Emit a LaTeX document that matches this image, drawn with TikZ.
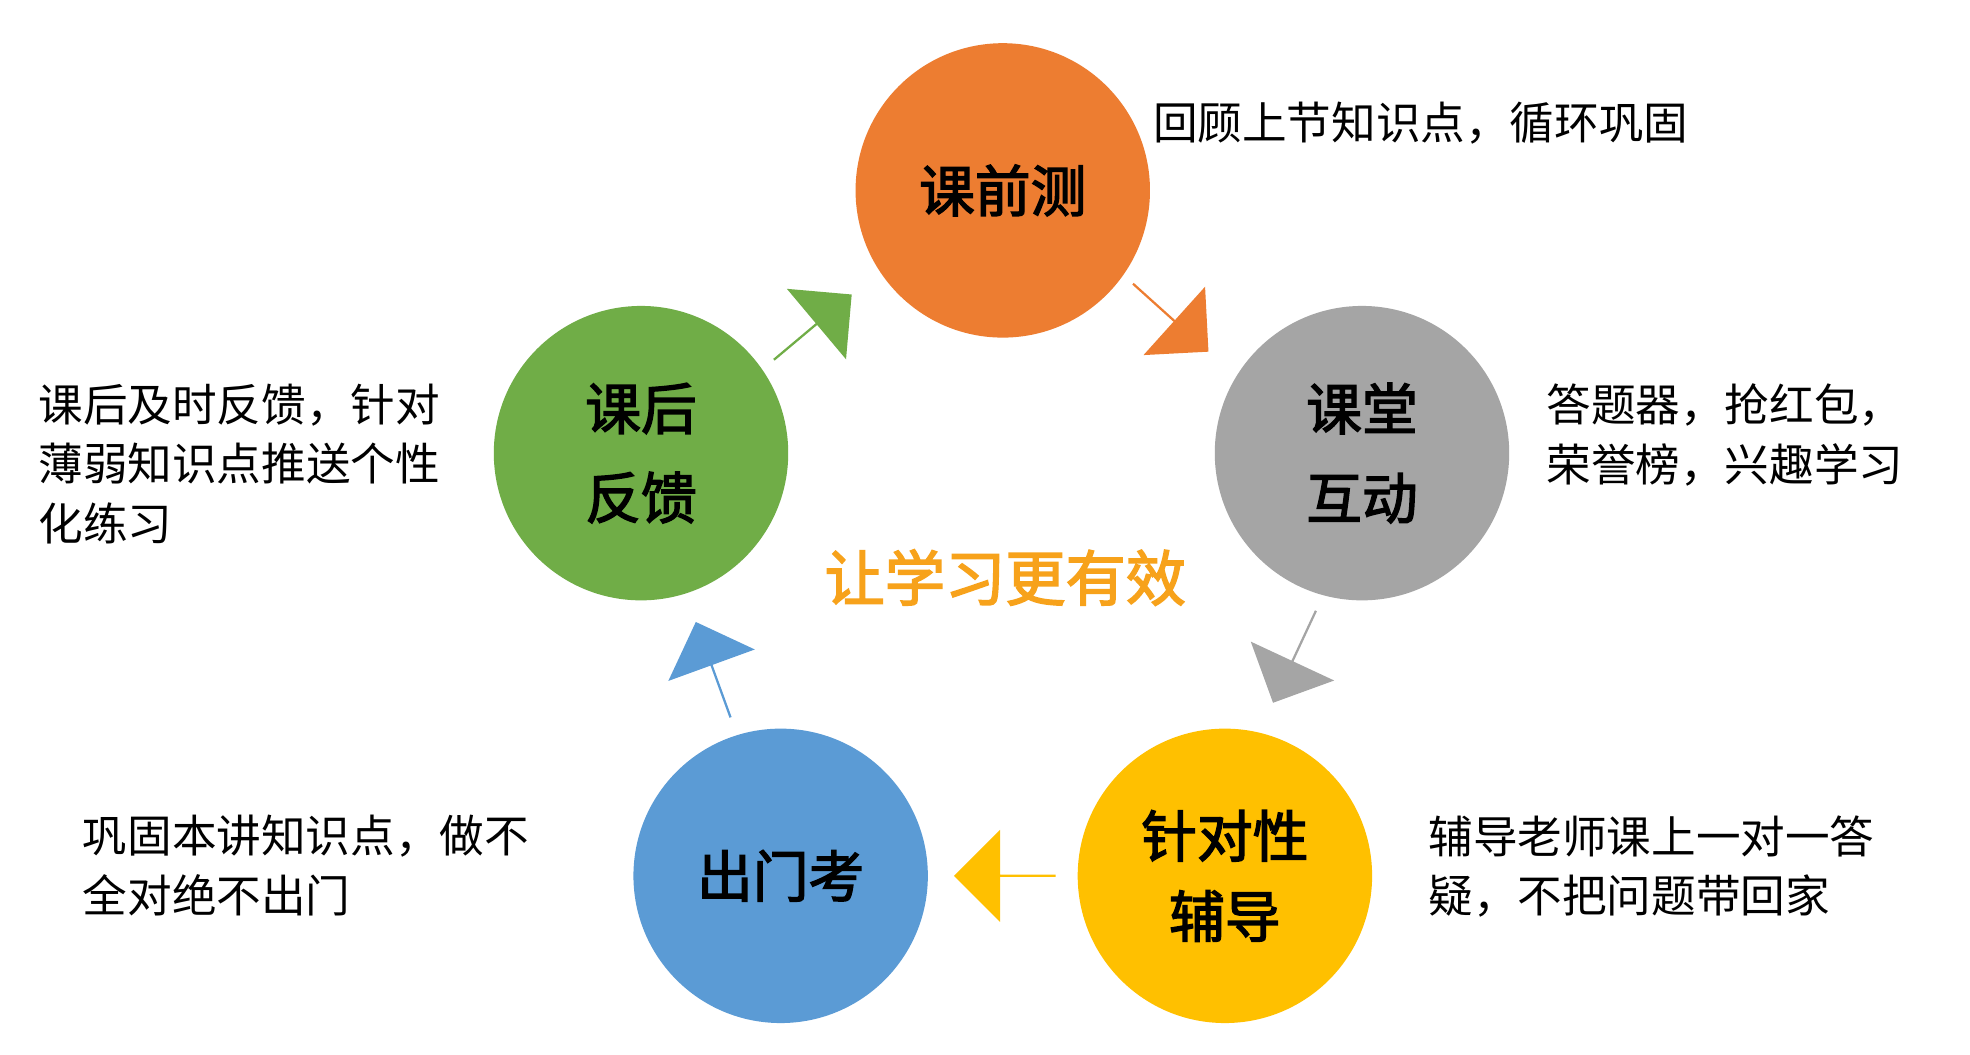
\documentclass[tikz,border=0pt]{standalone}
\usepackage{fontspec}
\newfontfamily\cjk{Noto Sans CJK SC}[AutoFakeBold=2.5]
\usetikzlibrary{shapes.arrows}
\definecolor{corange}{HTML}{ED7D31}
\definecolor{cgray}{HTML}{A5A5A5}
\definecolor{cyellow}{HTML}{FFC000}
\definecolor{cblue}{HTML}{5B9BD5}
\definecolor{cgreen}{HTML}{70AD47}
\definecolor{ctitle}{HTML}{F7A21B}
\tikzset{
 stage/.style={circle,fill=#1,minimum size=4.64cm,inner sep=0pt,font=\cjk\bfseries\fontsize{25}{36}\selectfont,align=center,text=black},
 blk/.style={single arrow,fill=#1,draw=none,minimum height=1.6cm,minimum width=1.45cm,single arrow head extend=0.28cm,inner sep=0pt},
 desc/.style={anchor=north west,align=left,font=\cjk\fontsize{20}{26.7}\selectfont,inner sep=0pt}
}
\begin{document}
\begin{tikzpicture}[x=0.02cm,y=-0.02cm]
\useasboundingbox[fill=white] (0,0) rectangle (1552,831);
\node[stage=corange] (a) at (790,150) {课前测};
\node[stage=cgray] (b) at (1073,357) {课堂\\[4pt]互动};
\node[stage=cyellow] (c) at (965,690) {针对性\\辅导};
\node[stage=cblue] (d) at (615,690) {出门考};
\node[stage=cgreen] (e) at (505,357) {课后\\[4pt]反馈};
\node[blk=corange,rotate=-42] (ab) at (922,250) {};
\node[blk=cgray,rotate=-115] (bc) at (1020,517) {};
\node[blk=cyellow,rotate=180] (cd) at (792,690) {};
\node[blk=cblue,rotate=110] (de) at (562,528) {};
\node[blk=cgreen,rotate=40] (ea) at (640,258) {};
\node[font=\cjk\bfseries\fontsize{27}{32}\selectfont,text=ctitle] (t) at (792,455) {让学习更有效};
\node[desc] (ta) at (908,80) {回顾上节知识点，循环巩固};
\node[desc] (tb) at (1218,302) {答题器，抢红包，\\荣誉榜，兴趣学习};
\node[desc] (tc) at (1125,642) {辅导老师课上一对一答\\疑，不把问题带回家};
\node[desc] (td) at (65,642) {巩固本讲知识点，做不\\全对绝不出门};
\node[desc] (te) at (30,302) {课后及时反馈，针对\\薄弱知识点推送个性\\化练习};
\end{tikzpicture}
\end{document}
